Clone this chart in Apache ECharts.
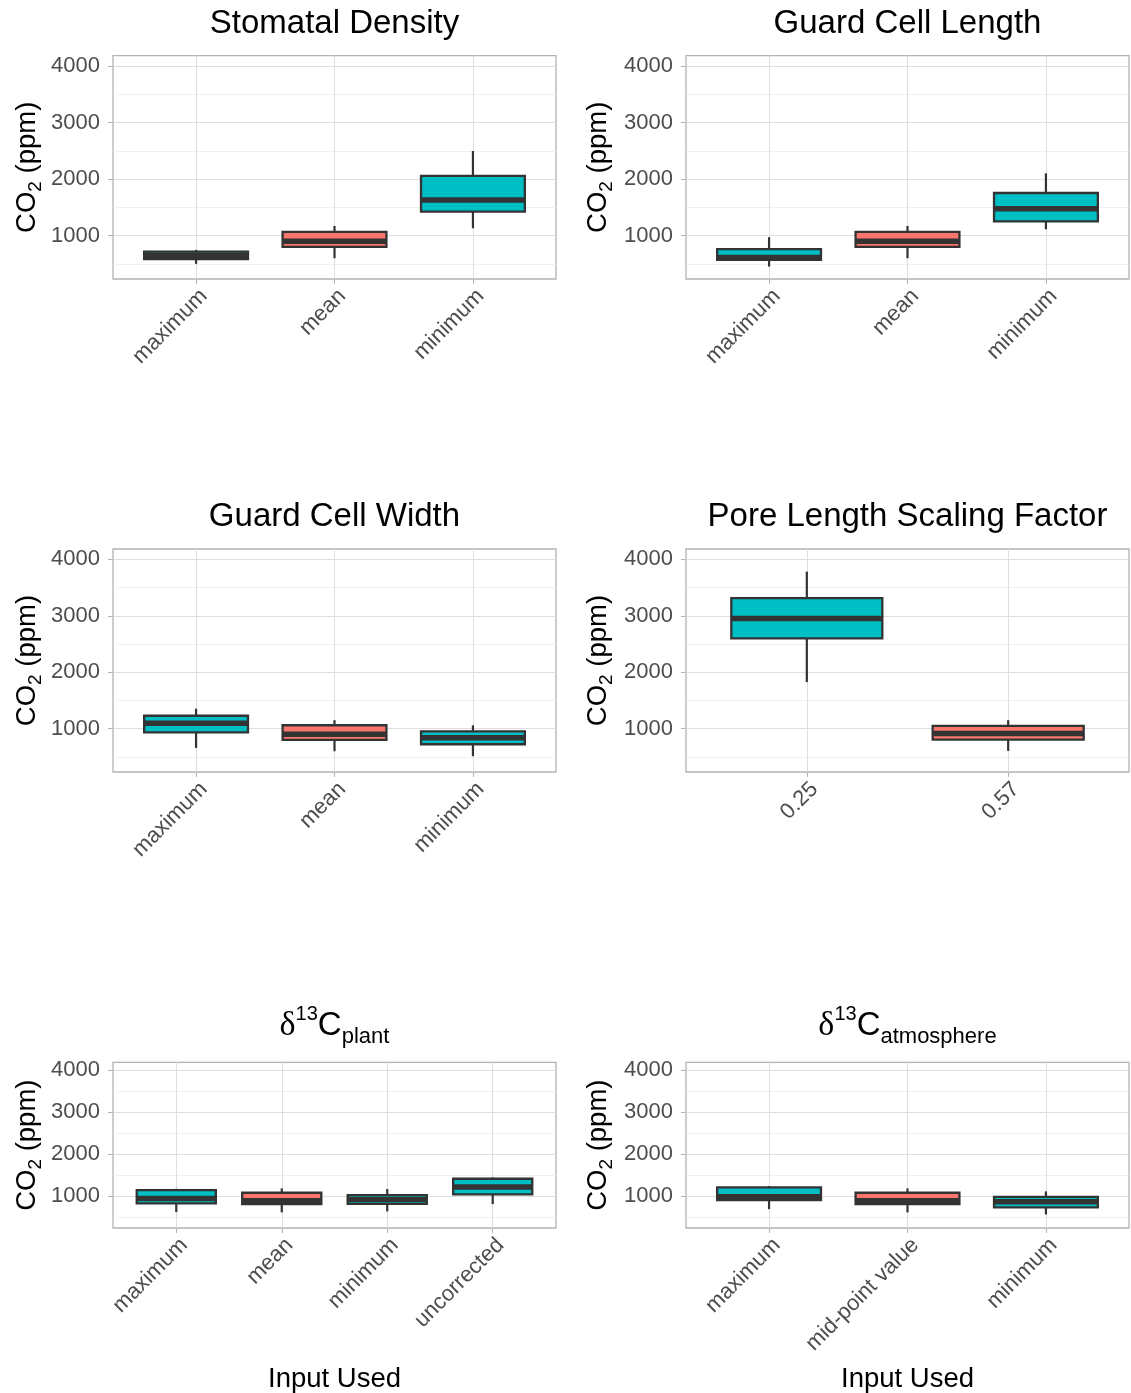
<!DOCTYPE html>
<html>
<head>
<meta charset="utf-8">
<script src="https://cdn.jsdelivr.net/npm/echarts@6/dist/echarts.min.js"></script>
<style>
  html, body { margin: 0; padding: 0; background: #ffffff; }
  #chart { width: 1131px; height: 1393px; }
</style>
</head>
<body>
<div id="chart"></div>
<script>
// ---- Categories (input used) ----
const catsStomatalDensity = ['maximum', 'mean', 'minimum'];
const catsGuardCellLength = ['maximum', 'mean', 'minimum'];
const catsGuardCellWidth  = ['maximum', 'mean', 'minimum'];
const catsPoreScaling     = ['0.25', '0.57'];
const catsD13CPlant       = ['maximum', 'mean', 'minimum', 'uncorrected'];
const catsD13CAtmosphere  = ['maximum', 'mid-point value', 'minimum'];

// ---- Box statistics, CO2 (ppm): [lower whisker, Q1, median, Q3, upper whisker] ----
const boxStomatalDensity = [[500, 583, 650, 717, 747], [600, 800, 900, 1065, 1170], [1130, 1424, 1630, 2055, 2497]];
const boxGuardCellLength = [[452, 570, 612, 760, 972], [600, 800, 900, 1065, 1170], [1112, 1253, 1477, 1754, 2102]];
const boxGuardCellWidth  = [[659, 935, 1094, 1229, 1353], [600, 800, 900, 1060, 1150], [512, 724, 841, 953, 1059]];
const boxPoreScaling     = [[1824, 2600, 2953, 3312, 3782], [606, 806, 912, 1050, 1150]];
const boxD13CPlant       = [[611, 818, 938, 1136, 1167], [604, 802, 880, 1072, 1177], [628, 809, 914, 1017, 1160], [802, 1033, 1208, 1406, 1439]];
const boxD13CAtmosphere  = [[682, 897, 975, 1200, 1232], [604, 802, 880, 1072, 1177], [556, 723, 857, 976, 1105]];

// ---- Fill group of each box: 0 = standard input, 1 = alternative input ----
const groupStomatalDensity = [1, 0, 1];
const groupGuardCellLength = [1, 0, 1];
const groupGuardCellWidth  = [1, 0, 1];
const groupPoreScaling     = [1, 0];
const groupD13CPlant       = [1, 0, 1, 1];
const groupD13CAtmosphere  = [1, 0, 1];

// ---- Y axis ticks ----
const yMajorTicks = [1000, 2000, 3000, 4000];
const yMinorTicks = [500, 1500, 2500, 3500];
const yLimits = [232, 4183];

const FILLS = ['#F8766D', '#00BFC4'];
const INK = '#333333';
const SANS = '"Liberation Sans", Arial, Helvetica, sans-serif';
const SERIF = '"Liberation Serif", "DejaVu Serif", serif';

const LEFT_COL = 113, RIGHT_COL = 686, PLOT_W = 443;

const panels = [
  { title: 'Stomatal Density', cats: catsStomatalDensity, stats: boxStomatalDensity, groups: groupStomatalDensity,
    left: LEFT_COL, top: 55.7, height: 223.3, titleY: 23.5 },
  { title: 'Guard Cell Length', cats: catsGuardCellLength, stats: boxGuardCellLength, groups: groupGuardCellLength,
    left: RIGHT_COL, top: 55.7, height: 223.3, titleY: 23.5 },
  { title: 'Guard Cell Width', cats: catsGuardCellWidth, stats: boxGuardCellWidth, groups: groupGuardCellWidth,
    left: LEFT_COL, top: 549, height: 223, titleY: 517 },
  { title: 'Pore Length Scaling Factor', cats: catsPoreScaling, stats: boxPoreScaling, groups: groupPoreScaling,
    left: RIGHT_COL, top: 549, height: 223, titleY: 517 },
  { title: '{d|δ}{sup|13}{c|C}{sub|plant}', rich: true, cats: catsD13CPlant, stats: boxD13CPlant, groups: groupD13CPlant,
    left: LEFT_COL, top: 1062.3, height: 165.7, titleY: 1026, xTitle: 'Input Used' },
  { title: '{d|δ}{sup|13}{c|C}{sub|atmosphere}', rich: true, cats: catsD13CAtmosphere, stats: boxD13CAtmosphere, groups: groupD13CAtmosphere,
    left: RIGHT_COL, top: 1062.3, height: 165.7, titleY: 1026, xTitle: 'Input Used' }
];

// Box-and-whisker glyph: whisker line, box with outline, thick median bar
function renderBox(params, api) {
  const x = api.value(0);
  const lo = api.value(1), q1 = api.value(2), med = api.value(3), q3 = api.value(4), hi = api.value(5);
  const grp = api.value(6);
  const w = api.size([0.75, 0])[0];
  const pLo = api.coord([x, lo]);
  const pHi = api.coord([x, hi]);
  const pQ1 = api.coord([x, q1]);
  const pQ3 = api.coord([x, q3]);
  const pMed = api.coord([x, med]);
  return {
    type: 'group',
    children: [
      { type: 'line', shape: { x1: pLo[0], y1: pLo[1], x2: pHi[0], y2: pHi[1] },
        style: { stroke: INK, lineWidth: 2.2 } },
      { type: 'rect', shape: { x: pQ1[0] - w / 2, y: pQ3[1], width: w, height: pQ1[1] - pQ3[1] },
        style: { fill: FILLS[grp], stroke: INK, lineWidth: 2.3 } },
      { type: 'line', shape: { x1: pMed[0] - w / 2, y1: pMed[1], x2: pMed[0] + w / 2, y2: pMed[1] },
        style: { stroke: INK, lineWidth: 5.5 } }
    ]
  };
}

const titleRich = {
  d:   { fontFamily: SERIF, fontSize: 34, lineHeight: 44, fill: '#000', color: '#000' },
  sup: { fontFamily: SANS, fontSize: 20, lineHeight: 24, verticalAlign: 'top', fill: '#000', color: '#000' },
  c:   { fontFamily: SANS, fontSize: 33, lineHeight: 44, fill: '#000', color: '#000' },
  sub: { fontFamily: SANS, fontSize: 22, lineHeight: 36, verticalAlign: 'bottom', fill: '#000', color: '#000' }
};
const yTitleRich = {
  b: { fontFamily: SANS, fontSize: 27.5, lineHeight: 36, fill: '#000', color: '#000' },
  s: { fontFamily: SANS, fontSize: 19, lineHeight: 26, verticalAlign: 'bottom', fill: '#000', color: '#000' }
};

const grids = [], xAxes = [], yAxes = [], series = [], graphics = [];

panels.forEach((p, i) => {
  const n = p.cats.length;
  const cx = p.left + PLOT_W / 2;
  const cy = p.top + p.height / 2;
  const catValues = p.cats.map((_, k) => k + 1);

  grids.push({
    left: p.left, top: p.top, width: PLOT_W, height: p.height,
    show: true, borderColor: '#b3b3b3', borderWidth: 1.3, backgroundColor: 'transparent',
    containLabel: false, outerBoundsMode: 'none'
  });

  xAxes.push({
    type: 'value', gridIndex: i, min: 0.4, max: n + 0.6,
    axisLine: { show: false },
    axisTick: { show: true, length: 5, customValues: catValues, lineStyle: { color: '#b3b3b3', width: 1 } },
    axisLabel: {
      customValues: catValues, rotate: 45, align: 'right', verticalAlign: 'top', margin: 6,
      fontFamily: SANS, fontSize: 22, color: '#4d4d4d',
      formatter: v => p.cats[Math.round(v) - 1]
    },
    splitLine: { show: true, lineStyle: { color: '#dedede', width: 1 } }
  });

  // major y axis with labels
  yAxes.push({
    type: 'value', gridIndex: i, min: yLimits[0], max: yLimits[1],
    axisLine: { show: false },
    axisTick: { show: true, length: 5, customValues: yMajorTicks, lineStyle: { color: '#b3b3b3', width: 1 } },
    axisLabel: { customValues: yMajorTicks, margin: 13, fontFamily: SANS, fontSize: 22, color: '#4d4d4d',
                 formatter: v => String(Math.round(v)) },
    splitLine: { show: true, lineStyle: { color: '#dedede', width: 1 } }
  });
  // minor grid lines
  yAxes.push({
    type: 'value', gridIndex: i, min: yLimits[0], max: yLimits[1], position: 'left',
    axisLine: { show: false },
    axisTick: { show: false, customValues: yMinorTicks },
    axisLabel: { show: false, customValues: yMinorTicks },
    splitLine: { show: true, lineStyle: { color: '#ececec', width: 0.8 } }
  });

  series.push({
    type: 'custom', xAxisIndex: i, yAxisIndex: i * 2, clip: false, z: 5,
    renderItem: renderBox,
    encode: { x: 0, y: [1, 2, 3, 4, 5] },
    data: p.stats.map((s, k) => [k + 1, s[0], s[1], s[2], s[3], s[4], p.groups[k]]),
    silent: true
  });

  // panel title
  graphics.push({
    type: 'text', x: cx, y: p.titleY, silent: true,
    style: p.rich
      ? { text: p.title, rich: titleRich, align: 'center', verticalAlign: 'middle',
          textAlign: 'center', textVerticalAlign: 'middle', fill: '#000' }
      : { text: p.title, font: '33px ' + SANS, fill: '#000', align: 'center', verticalAlign: 'middle',
          textAlign: 'center', textVerticalAlign: 'middle' }
  });

  // y axis title
  graphics.push({
    type: 'text', x: p.left === LEFT_COL ? 27 : 598, y: cy, rotation: Math.PI / 2, silent: true,
    style: { text: '{b|CO}{s|2}{b| (ppm)}', rich: yTitleRich, align: 'center', verticalAlign: 'middle',
             textAlign: 'center', textVerticalAlign: 'middle', fill: '#000' }
  });

  // x axis title on the bottom row
  if (p.xTitle) {
    graphics.push({
      type: 'text', x: cx, y: 1379, silent: true,
      style: { text: p.xTitle, font: '27.5px ' + SANS, fill: '#000', align: 'center', verticalAlign: 'middle',
               textAlign: 'center', textVerticalAlign: 'middle' }
    });
  }
});

const chart = echarts.init(document.getElementById('chart'), null, { renderer: 'canvas' });
chart.setOption({
  backgroundColor: '#ffffff',
  animation: false,
  grid: grids,
  xAxis: xAxes,
  yAxis: yAxes,
  series: series,
  graphic: { elements: graphics }
});
</script>
</body>
</html>
